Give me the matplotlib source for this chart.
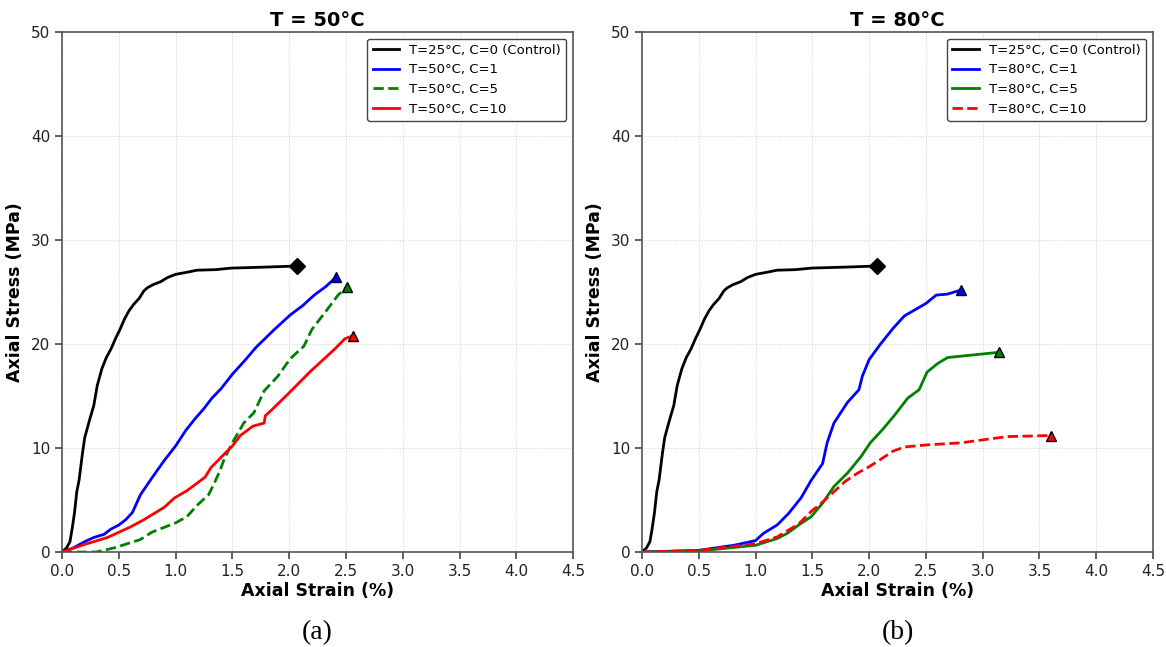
import matplotlib
matplotlib.use("Agg")
import matplotlib.pyplot as plt

# --- Control curve (same in both panels) ---
ctrl_x = [0, 0.04, 0.07, 0.09, 0.11, 0.13, 0.15, 0.18, 0.2, 0.24, 0.28, 0.31, 0.35, 0.39, 0.43, 0.47,
          0.51, 0.55, 0.59, 0.63, 0.68, 0.72, 0.75, 0.8, 0.87, 0.93, 1.0, 1.1, 1.19, 1.35, 1.49, 1.8, 2.07]
ctrl_y = [0, 0.4, 1.0, 2.3, 3.8, 5.8, 6.9, 9.5, 11.0, 12.6, 14.1, 16.0, 17.6, 18.7, 19.5, 20.5,
          21.4, 22.4, 23.2, 23.8, 24.4, 25.1, 25.4, 25.7, 26.0, 26.4, 26.7, 26.9, 27.1, 27.15, 27.3, 27.4, 27.5]

# --- Panel (a): T = 50 C ---
b50_x = [0, 0.1, 0.2, 0.28, 0.37, 0.43, 0.5, 0.56, 0.62, 0.69, 0.79, 0.9, 1.0, 1.09, 1.17, 1.25, 1.32,
         1.4, 1.5, 1.6, 1.71, 1.87, 2.01, 2.12, 2.22, 2.32, 2.41]
b50_y = [0, 0.4, 1.0, 1.4, 1.7, 2.2, 2.6, 3.1, 3.8, 5.5, 7.1, 8.8, 10.2, 11.7, 12.8, 13.8, 14.8,
         15.7, 17.1, 18.3, 19.7, 21.4, 22.8, 23.7, 24.7, 25.5, 26.4]

g50_x = [0, 0.3, 0.46, 0.69, 0.79, 1.0, 1.1, 1.19, 1.29, 1.34, 1.39, 1.43, 1.51, 1.6, 1.69, 1.78,
         1.9, 2.01, 2.13, 2.2, 2.32, 2.43, 2.51]
g50_y = [0, 0.0, 0.4, 1.2, 1.9, 2.8, 3.4, 4.5, 5.5, 6.6, 7.8, 9.0, 10.7, 12.4, 13.4, 15.5,
         16.9, 18.6, 19.8, 21.4, 23.1, 24.7, 25.5]

r50_x = [0, 0.19, 0.4, 0.6, 0.72, 0.9, 0.99, 1.1, 1.26, 1.31, 1.4, 1.5, 1.57, 1.68, 1.78, 1.79,
         1.84, 1.99, 2.19, 2.4, 2.49, 2.56]
r50_y = [0, 0.7, 1.4, 2.4, 3.1, 4.3, 5.2, 5.9, 7.2, 8.1, 9.1, 10.2, 11.2, 12.1, 12.4, 13.1,
         13.6, 15.2, 17.4, 19.5, 20.5, 20.8]

# --- Panel (b): T = 80 C ---
b80_x = [0, 0.5, 0.81, 1.0, 1.07, 1.19, 1.29, 1.4, 1.49, 1.59, 1.63, 1.69, 1.81, 1.91, 1.94, 2.0,
         2.1, 2.21, 2.31, 2.5, 2.59, 2.69, 2.81]
b80_y = [0, 0.16, 0.65, 1.1, 1.8, 2.6, 3.7, 5.2, 6.9, 8.5, 10.5, 12.4, 14.4, 15.6, 16.9, 18.5,
         20.0, 21.5, 22.7, 23.9, 24.7, 24.8, 25.2]

g80_x = [0, 0.5, 1.0, 1.19, 1.28, 1.38, 1.49, 1.59, 1.69, 1.81, 1.93, 2.01, 2.12, 2.22, 2.34,
         2.44, 2.51, 2.6, 2.69, 2.87, 3.14]
g80_y = [0, 0.1, 0.65, 1.3, 1.8, 2.6, 3.4, 4.7, 6.3, 7.6, 9.2, 10.5, 11.8, 13.1, 14.8,
         15.6, 17.3, 18.1, 18.7, 18.9, 19.2]

r80_x = [0, 0.5, 1.0, 1.19, 1.38, 1.49, 1.59, 1.69, 1.79, 1.9, 2.0, 2.1, 2.21, 2.31, 2.51, 2.81,
         3.01, 3.22, 3.6]
r80_y = [0, 0.15, 0.8, 1.45, 2.7, 3.9, 4.8, 5.8, 6.8, 7.6, 8.2, 8.9, 9.7, 10.1, 10.3, 10.5,
         10.8, 11.1, 11.2]

fig = plt.figure(figsize=(11.66, 6.47), dpi=100)
ax1 = fig.add_axes([0.0532, 0.1468, 0.4383, 0.8037])
ax2 = fig.add_axes([0.5506, 0.1468, 0.4383, 0.8037])


def draw_curve(ax, x, y, color, ls, label, marker):
    ax.plot(x, y, color=color, ls=ls, lw=2, label=label)
    ax.plot(x[-1], y[-1], marker=marker, color=color, mec='black', mew=1,
            ms=8 if marker == 'D' else 7, ls='none')


draw_curve(ax1, ctrl_x, ctrl_y, 'black', '-', 'T=25°C, C=0 (Control)', 'D')
draw_curve(ax1, b50_x, b50_y, 'blue', '-', 'T=50°C, C=1', '^')
draw_curve(ax1, g50_x, g50_y, 'green', '--', 'T=50°C, C=5', '^')
draw_curve(ax1, r50_x, r50_y, 'red', '-', 'T=50°C, C=10', '^')

draw_curve(ax2, ctrl_x, ctrl_y, 'black', '-', 'T=25°C, C=0 (Control)', 'D')
draw_curve(ax2, b80_x, b80_y, 'blue', '-', 'T=80°C, C=1', '^')
draw_curve(ax2, g80_x, g80_y, 'green', '-', 'T=80°C, C=5', '^')
draw_curve(ax2, r80_x, r80_y, 'red', '--', 'T=80°C, C=10', '^')

for ax, title, cap in [(ax1, 'T = 50°C', '(a)'), (ax2, 'T = 80°C', '(b)')]:
    ax.set_xlim(0, 4.5)
    ax.set_ylim(0, 50)
    ax.set_xticks([0, 0.5, 1.0, 1.5, 2.0, 2.5, 3.0, 3.5, 4.0, 4.5])
    ax.set_yticks([0, 10, 20, 30, 40, 50])
    ax.grid(True, ls=':', color='#d0d0d0', lw=0.7)
    ax.tick_params(labelsize=11, length=5, width=1.2, color='#444444', labelcolor='#222222')
    for s in ax.spines.values():
        s.set_color('#555555')
        s.set_linewidth(1.2)
    ax.set_title(title, fontsize=14, fontweight='bold', pad=4)
    ax.set_xlabel('Axial Strain (%)', fontsize=12.5, fontweight='bold', labelpad=2)
    ax.set_ylabel('Axial Stress (MPa)', fontsize=12.5, fontweight='bold', labelpad=5)
    leg = ax.legend(loc='upper right', fontsize=9.5, frameon=True, framealpha=1,
                    edgecolor='#444444', handlelength=2)
    leg.get_frame().set_linewidth(1.0)
    ax.text(0.5, -0.155, cap, transform=ax.transAxes, ha='center', va='center',
            fontsize=20, family='Liberation Serif')

fig.savefig('out.png', dpi=100)
